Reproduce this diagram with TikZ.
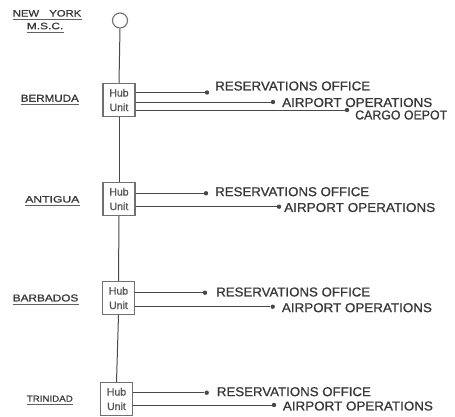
\documentclass[tikz,border=0pt]{standalone}
\usepackage{fontspec}
\setmainfont{Liberation Sans}[FakeBold=0.9]
\usepackage{graphicx}
\definecolor{ink}{HTML}{383838}
\definecolor{lineink}{HTML}{484848}
\definecolor{boxink}{HTML}{707070}
\newcommand{\fitbox}[3]{\resizebox{#1pt}{#2pt}{#3}}
\tikzset{
  hub/.style={draw=boxink, line width=1.1pt, minimum width=32pt, minimum height=33pt,
    inner sep=0pt, align=center, text=ink!85, font=\fontsize{10.5}{14.5}\selectfont},
  trunk/.style={draw=lineink, line width=1pt},
  conn/.style={draw=lineink, line width=0.9pt},
  dotnode/.style={circle, fill=lineink, inner sep=0pt, minimum size=4.4pt},
  dest/.style={anchor=west, inner sep=0pt, text=ink},
  place/.style={anchor=east, inner sep=0pt, text=ink},
  uline/.style={draw=ink!80, line width=0.9pt},
}
\begin{document}
\begin{tikzpicture}[x=1pt,y=-1pt]
\useasboundingbox (0,0) rectangle (455,416);

% origin circle
\node[circle, draw=boxink, line width=1.1pt, minimum size=15pt, inner sep=0pt] (ny) at (120,20.5) {};

% hub units
\node[hub] (b1) at (119,100) {Hub\\Unit};
\node[hub] (b2) at (119,199) {Hub\\Unit};
\node[hub] (b3) at (118.5,298) {Hub\\Unit};
\node[hub] (b4) at (116.5,399) {Hub\\Unit};

% trunk
\draw[trunk] (ny.south) -- (b1.north);
\draw[trunk] (b1.south) -- (b2.north);
\draw[trunk] (b2.south) -- (b3.north);
\draw[trunk] (b3.south) -- (b4.north);

% place labels
\node[place] (lny) at (81.5,13.3) {\fitbox{68.5}{6.5}{NEW\hspace{0.9em}YORK}};
\node[place] (lmsc) at (63.5,26) {\fitbox{36.5}{6.5}{M.S.C.}};
\node[place] (l1) at (79,98.3) {\fitbox{58}{7}{BERMUDA}};
\node[place] (l2) at (79.5,199.3) {\fitbox{54}{6.5}{ANTIGUA}};
\node[place] (l3) at (78.5,298) {\fitbox{65.5}{7}{BARBADOS}};
\node[place] (l4) at (73,398.7) {\fitbox{46}{6}{TRINIDAD}};
\foreach \n in {lny,lmsc,l1,l2,l3,l4}
  \draw[uline] ([yshift=-2.6pt]\n.south west) -- ([yshift=-2.6pt]\n.south east);

% Bermuda
\node[dotnode] (d1a) at (207,92.5) {};
\node[dotnode] (d1b) at (273,102) {};
\node[dotnode] (d1c) at (347,110) {};
\draw[conn] (d1a -| b1.east) -- (d1a);
\draw[conn] (d1b -| b1.east) -- (d1b);
\draw[conn] (d1c -| b1.east) -- (d1c);
\node[dest] (t1a) at (215,86) {\fitbox{155}{9}{RESERVATIONS OFFICE}};
\node[dest] (t1b) at (282,102.5) {\fitbox{150}{9}{AIRPORT OPERATIONS}};
\node[dest] (t1c) at (355,115) {\fitbox{92}{9}{CARGO OEPOT}};

% Antigua
\node[dotnode] (d2a) at (206,193.3) {};
\node[dotnode] (d2b) at (279,206.7) {};
\draw[conn] (d2a -| b2.east) -- (d2a);
\draw[conn] (d2b -| b2.east) -- (d2b);
\node[dest] (t2a) at (215,191.7) {\fitbox{154}{9}{RESERVATIONS OFFICE}};
\node[dest] (t2b) at (284,207.5) {\fitbox{151}{9}{AIRPORT OPERATIONS}};

% Barbados
\node[dotnode] (d3a) at (205,292.7) {};
\node[dotnode] (d3b) at (272.7,306.7) {};
\draw[conn] (d3a -| b3.east) -- (d3a);
\draw[conn] (d3b -| b3.east) -- (d3b);
\node[dest] (t3a) at (216,292) {\fitbox{154}{9}{RESERVATIONS OFFICE}};
\node[dest] (t3b) at (281.7,307.7) {\fitbox{150}{9}{AIRPORT OPERATIONS}};

% Trinidad
\node[dotnode] (d4a) at (206.7,392.7) {};
\node[dotnode] (d4b) at (274,405) {};
\draw[conn] (d4a -| b4.east) -- (d4a);
\draw[conn] (d4b -| b4.east) -- (d4b);
\node[dest] (t4a) at (216.7,391.7) {\fitbox{154}{9}{RESERVATIONS OFFICE}};
\node[dest] (t4b) at (282.7,406) {\fitbox{150}{9}{AIRPORT OPERATIONS}};
\end{tikzpicture}
\end{document}
